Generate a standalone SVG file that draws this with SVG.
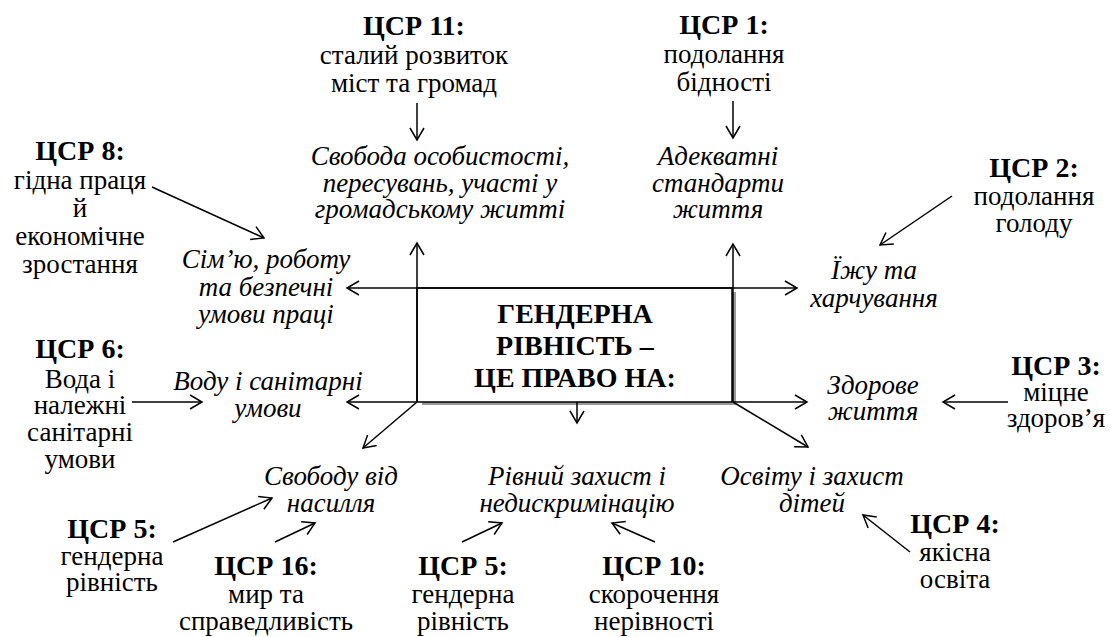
<svg xmlns="http://www.w3.org/2000/svg" width="1111" height="637" viewBox="0 0 1111 637">
<defs>
<marker id="ah" markerUnits="userSpaceOnUse" markerWidth="20" markerHeight="20" viewBox="-14 -10 16 20" refX="0" refY="0" orient="auto">
<path d="M-12,-7 L0,0 L-12,7" fill="none" stroke="#000" stroke-width="1.5"/>
</marker>
</defs>
<style>
text{fill:#000;text-anchor:middle}
.h{font-size:28px;font-weight:bold}
.b{font-size:27px}
.i{font-size:27px;font-style:italic}
.c{font-size:28px;font-weight:bold}
.ar{stroke:#000;stroke-width:1.5;fill:none;marker-end:url(#ah)}
</style>
<rect width="1111" height="637" fill="#fff"/>
<g font-family="'Liberation Serif', 'DejaVu Serif', serif">
<g id="center">
<rect x="422" y="401" width="314" height="4" fill="#9a9a9a"/>
<rect x="732" y="292" width="4" height="113" fill="#9a9a9a"/>
<rect x="417" y="288" width="315" height="114" fill="#fff" stroke="#000" stroke-width="1.5"/>
<text class="c" x="575" y="323">ГЕНДЕРНА</text>
<text class="c" x="575" y="355">РІВНІСТЬ –</text>
<text class="c" x="575" y="387">ЦЕ ПРАВО НА:</text>
</g>

<g id="connectors">
<line class="ar" x1="417" y1="402" x2="417" y2="243"/>
<line class="ar" x1="733" y1="402" x2="733" y2="244"/>
<line class="ar" x1="417" y1="288" x2="347" y2="288"/>
<line class="ar" x1="417" y1="288" x2="797" y2="288"/>
<line class="ar" x1="417" y1="402" x2="347" y2="402"/>
<line class="ar" x1="733" y1="402" x2="807" y2="402"/>
<line class="ar" x1="417" y1="402" x2="363" y2="448"/>
<line class="ar" x1="733" y1="402" x2="808" y2="447"/>
<line class="ar" x1="577" y1="402" x2="577" y2="423"/>
<line class="ar" x1="417" y1="103" x2="417" y2="140"/>
<line class="ar" x1="733" y1="101" x2="733" y2="138"/>
<line class="ar" x1="152" y1="187" x2="264" y2="238"/>
<line class="ar" x1="952" y1="196" x2="880" y2="245"/>
<line class="ar" x1="132" y1="402" x2="202" y2="402"/>
<line class="ar" x1="1008" y1="402" x2="943" y2="402"/>
<line class="ar" x1="173" y1="542" x2="272" y2="498"/>
<line class="ar" x1="275" y1="542" x2="315" y2="523"/>
<line class="ar" x1="462" y1="542" x2="502" y2="523"/>
<line class="ar" x1="655" y1="542" x2="612" y2="523"/>
<line class="ar" x1="910" y1="552" x2="863" y2="515"/>
</g>

<g id="sdg11">
<text class="h" x="414" y="35">ЦСР 11:</text>
<text class="b" x="414" y="64">сталий розвиток</text>
<text class="b" x="414" y="92">міст та громад</text>
</g>
<g id="sdg1">
<text class="h" x="724" y="34">ЦСР 1:</text>
<text class="b" x="724" y="63">подолання</text>
<text class="b" x="724" y="91">бідності</text>
</g>
<g id="freedom">
<text class="i" x="440" y="165">Свобода особистості,</text>
<text class="i" x="440" y="192">пересувань, участі у</text>
<text class="i" x="440" y="218">громадському житті</text>
</g>
<g id="standards">
<text class="i" x="718" y="165">Адекватні</text>
<text class="i" x="718" y="192">стандарти</text>
<text class="i" x="718" y="218">життя</text>
</g>
<g id="sdg8">
<text class="h" x="80" y="160">ЦСР 8:</text>
<text class="b" x="80" y="189">гідна праця</text>
<text class="b" x="80" y="217">й</text>
<text class="b" x="80" y="245">економічне</text>
<text class="b" x="80" y="273">зростання</text>
</g>
<g id="family">
<text class="i" x="266" y="268">Сім’ю, роботу</text>
<text class="i" x="266" y="296">та безпечні</text>
<text class="i" x="266" y="323">умови праці</text>
</g>
<g id="sdg2">
<text class="h" x="1034" y="177">ЦСР 2:</text>
<text class="b" x="1034" y="205">подолання</text>
<text class="b" x="1034" y="232">голоду</text>
</g>
<g id="food">
<text class="i" x="874" y="279">Їжу та</text>
<text class="i" x="874" y="307">харчування</text>
</g>
<g id="sdg6">
<text class="h" x="80" y="358">ЦСР 6:</text>
<text class="b" x="80" y="388">Вода і</text>
<text class="b" x="80" y="414">належні</text>
<text class="b" x="80" y="441">санітарні</text>
<text class="b" x="80" y="468">умови</text>
</g>
<g id="water">
<text class="i" x="268" y="390">Воду і санітарні</text>
<text class="i" x="268" y="417">умови</text>
</g>
<g id="sdg3">
<text class="h" x="1056" y="375">ЦСР 3:</text>
<text class="b" x="1056" y="401">міцне</text>
<text class="b" x="1056" y="427">здоров’я</text>
</g>
<g id="health">
<text class="i" x="873" y="394">Здорове</text>
<text class="i" x="873" y="420">життя</text>
</g>
<g id="violence">
<text class="i" x="331" y="485">Свободу від</text>
<text class="i" x="331" y="512">насилля</text>
</g>
<g id="equal">
<text class="i" x="577" y="485">Рівний захист і</text>
<text class="i" x="577" y="512">недискримінацію</text>
</g>
<g id="education">
<text class="i" x="812" y="485">Освіту і захист</text>
<text class="i" x="812" y="512">дітей</text>
</g>
<g id="sdg5a">
<text class="h" x="112" y="538">ЦСР 5:</text>
<text class="b" x="112" y="565">гендерна</text>
<text class="b" x="112" y="591">рівність</text>
</g>
<g id="sdg16">
<text class="h" x="266" y="575">ЦСР 16:</text>
<text class="b" x="266" y="603">мир та</text>
<text class="b" x="266" y="630">справедливість</text>
</g>
<g id="sdg5b">
<text class="h" x="463" y="575">ЦСР 5:</text>
<text class="b" x="463" y="603">гендерна</text>
<text class="b" x="463" y="630">рівність</text>
</g>
<g id="sdg10">
<text class="h" x="654" y="575">ЦСР 10:</text>
<text class="b" x="654" y="603">скорочення</text>
<text class="b" x="654" y="630">нерівності</text>
</g>
<g id="sdg4">
<text class="h" x="955" y="533">ЦСР 4:</text>
<text class="b" x="955" y="561">якісна</text>
<text class="b" x="955" y="588">освіта</text>
</g>
</g>
</svg>
